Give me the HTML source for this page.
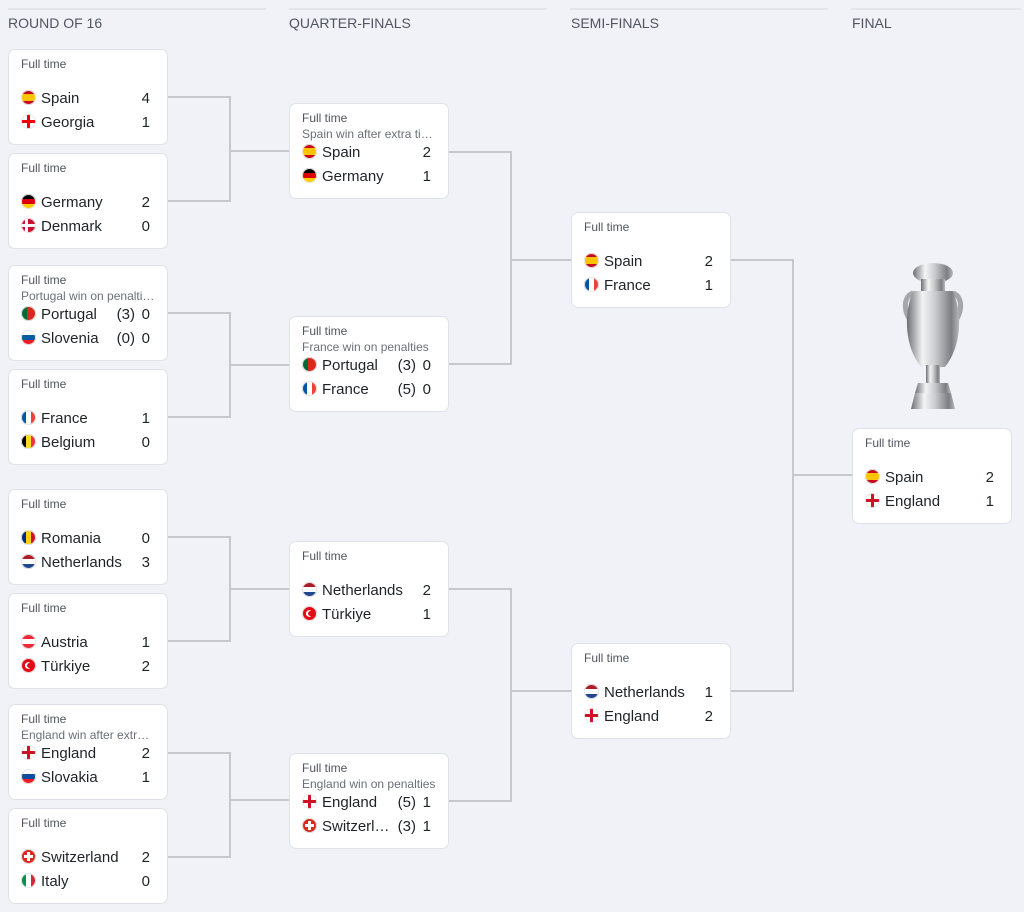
<!DOCTYPE html>
<html><head><meta charset="utf-8"><style>
body{margin:0;width:1024px;height:912px;background:#f0f2f7;font-family:"Liberation Sans",sans-serif;position:relative;overflow:hidden}
.h{position:absolute;top:8px;height:2px;background:#e3e5eb}
.ht{position:absolute;top:15px;font-size:14px;color:#505560}
.c{position:absolute;width:160px;height:96px;background:#fff;border:1px solid #dfe2e8;border-radius:7px;box-sizing:border-box}
.ft{position:absolute;left:12px;top:7px;font-size:12px;color:#50555f}
.sub{position:absolute;left:12px;top:23px;width:134px;font-size:12px;color:#6a707a;white-space:nowrap;overflow:hidden;text-overflow:ellipsis}
.r{position:absolute;left:0;right:0;height:22px;font-size:15px;color:#1f2328;line-height:22px}
.r1{top:38px}.r2{top:62px}
.f{position:absolute;left:12px;top:2px;width:15px;height:15px;border-radius:50%;box-shadow:0 0 0 1px #e6e6e6 inset}
.n{position:absolute;left:32px}
.s{position:absolute;right:17px}
.p{position:absolute;right:32px}
.es{background:linear-gradient(#c60b1e 27%,#ffc400 27% 73%,#c60b1e 73%)}
.ge{background:linear-gradient(#e00,#e00) center/100% 3px no-repeat,linear-gradient(#e00,#e00) center/3px 100% no-repeat,#fff}
.de{background:linear-gradient(#000 33%,#dd0000 33% 66%,#ffce00 66%)}
.dk{background:linear-gradient(#fff,#fff) 0 50%/100% 3px no-repeat,linear-gradient(#fff,#fff) 4px 0/3px 100% no-repeat,#c8102e}
.pt{background:linear-gradient(90deg,#046a38 40%,#da291c 40%)}
.si{background:linear-gradient(#fff 33%,#005da4 33% 66%,#ed1c24 66%)}
.fr{background:linear-gradient(90deg,#0055a4 33%,#fff 33% 66%,#ef4135 66%)}
.be{background:linear-gradient(90deg,#000 33%,#fdda24 33% 66%,#ef3340 66%)}
.ro{background:linear-gradient(90deg,#002b7f 33%,#fcd116 33% 66%,#ce1126 66%)}
.nl{background:linear-gradient(#ae1c28 33%,#fff 33% 66%,#21468b 66%)}
.at{background:linear-gradient(#ed2939 33%,#fff 33% 66%,#ed2939 66%)}
.tr{background:radial-gradient(circle at 58% 50%,#e30a17 22%,transparent 23%),radial-gradient(circle at 48% 50%,#fff 30%,#e30a17 31%)}
.en{background:linear-gradient(#ce1124,#ce1124) center/100% 3px no-repeat,linear-gradient(#ce1124,#ce1124) center/3px 100% no-repeat,#fff}
.sk{background:linear-gradient(#fff 33%,#0b4ea2 33% 66%,#ee1c25 66%)}
.ch{background:linear-gradient(#fff,#fff) center/9px 3px no-repeat,linear-gradient(#fff,#fff) center/3px 9px no-repeat,#da291c}
.it{background:linear-gradient(90deg,#009246 33%,#fff 33% 66%,#ce2b37 66%)}
</style></head><body>
<div class="h" style="left:8px;width:258px"></div><div class="ht" style="left:8px">ROUND OF 16</div>
<div class="h" style="left:289px;width:258px"></div><div class="ht" style="left:289px">QUARTER-FINALS</div>
<div class="h" style="left:570px;width:258px"></div><div class="ht" style="left:571px">SEMI-FINALS</div>
<div class="h" style="left:851px;width:170px"></div><div class="ht" style="left:852px">FINAL</div>

<svg width="1024" height="912" style="position:absolute;left:0;top:0" fill="none" stroke="#c6c8cd" stroke-width="2">
<path d="M167 97H230V201H167M230 151H290"/>
<path d="M167 313H230V417H167M230 365H290"/>
<path d="M167 537H230V641H167M230 589H290"/>
<path d="M167 753H230V857H167M230 800H290"/>
<path d="M448 152H511V364H448M511 260H572"/>
<path d="M448 589H511V801H448M511 691H572"/>
<path d="M730 260H793V691H730M793 475H853"/>
</svg>

<!-- R16 -->
<div class="c" style="left:8px;top:49px"><div class="ft">Full time</div>
<div class="r r1"><span class="f es"></span><span class="n">Spain</span><span class="s">4</span></div>
<div class="r r2"><span class="f ge"></span><span class="n">Georgia</span><span class="s">1</span></div></div>
<div class="c" style="left:8px;top:153px"><div class="ft">Full time</div>
<div class="r r1"><span class="f de"></span><span class="n">Germany</span><span class="s">2</span></div>
<div class="r r2"><span class="f dk"></span><span class="n">Denmark</span><span class="s">0</span></div></div>
<div class="c" style="left:8px;top:265px"><div class="ft">Full time</div><div class="sub">Portugal win on penalties</div>
<div class="r r1"><span class="f pt"></span><span class="n">Portugal</span><span class="p">(3)</span><span class="s">0</span></div>
<div class="r r2"><span class="f si"></span><span class="n">Slovenia</span><span class="p">(0)</span><span class="s">0</span></div></div>
<div class="c" style="left:8px;top:369px"><div class="ft">Full time</div>
<div class="r r1"><span class="f fr"></span><span class="n">France</span><span class="s">1</span></div>
<div class="r r2"><span class="f be"></span><span class="n">Belgium</span><span class="s">0</span></div></div>
<div class="c" style="left:8px;top:489px"><div class="ft">Full time</div>
<div class="r r1"><span class="f ro"></span><span class="n">Romania</span><span class="s">0</span></div>
<div class="r r2"><span class="f nl"></span><span class="n">Netherlands</span><span class="s">3</span></div></div>
<div class="c" style="left:8px;top:593px"><div class="ft">Full time</div>
<div class="r r1"><span class="f at"></span><span class="n">Austria</span><span class="s">1</span></div>
<div class="r r2"><span class="f tr"></span><span class="n">Türkiye</span><span class="s">2</span></div></div>
<div class="c" style="left:8px;top:704px"><div class="ft">Full time</div><div class="sub">England win after extra time</div>
<div class="r r1"><span class="f en"></span><span class="n">England</span><span class="s">2</span></div>
<div class="r r2"><span class="f sk"></span><span class="n">Slovakia</span><span class="s">1</span></div></div>
<div class="c" style="left:8px;top:808px"><div class="ft">Full time</div>
<div class="r r1"><span class="f ch"></span><span class="n">Switzerland</span><span class="s">2</span></div>
<div class="r r2"><span class="f it"></span><span class="n">Italy</span><span class="s">0</span></div></div>

<!-- QF -->
<div class="c" style="left:289px;top:103px"><div class="ft">Full time</div><div class="sub">Spain win after extra time</div>
<div class="r r1"><span class="f es"></span><span class="n">Spain</span><span class="s">2</span></div>
<div class="r r2"><span class="f de"></span><span class="n">Germany</span><span class="s">1</span></div></div>
<div class="c" style="left:289px;top:316px"><div class="ft">Full time</div><div class="sub">France win on penalties</div>
<div class="r r1"><span class="f pt"></span><span class="n">Portugal</span><span class="p">(3)</span><span class="s">0</span></div>
<div class="r r2"><span class="f fr"></span><span class="n">France</span><span class="p">(5)</span><span class="s">0</span></div></div>
<div class="c" style="left:289px;top:541px"><div class="ft">Full time</div>
<div class="r r1"><span class="f nl"></span><span class="n">Netherlands</span><span class="s">2</span></div>
<div class="r r2"><span class="f tr"></span><span class="n">Türkiye</span><span class="s">1</span></div></div>
<div class="c" style="left:289px;top:753px"><div class="ft">Full time</div><div class="sub">England win on penalties</div>
<div class="r r1"><span class="f en"></span><span class="n">England</span><span class="p">(5)</span><span class="s">1</span></div>
<div class="r r2"><span class="f ch"></span><span class="n" style="width:72px;overflow:hidden;text-overflow:ellipsis;white-space:nowrap">Switzerland</span><span class="p">(3)</span><span class="s">1</span></div></div>

<!-- SF -->
<div class="c" style="left:571px;top:212px"><div class="ft">Full time</div>
<div class="r r1"><span class="f es"></span><span class="n">Spain</span><span class="s">2</span></div>
<div class="r r2"><span class="f fr"></span><span class="n">France</span><span class="s">1</span></div></div>
<div class="c" style="left:571px;top:643px"><div class="ft">Full time</div>
<div class="r r1"><span class="f nl"></span><span class="n">Netherlands</span><span class="s">1</span></div>
<div class="r r2"><span class="f en"></span><span class="n">England</span><span class="s">2</span></div></div>

<!-- Final -->
<svg width="64" height="156" viewBox="0 0 64 156" style="position:absolute;left:901px;top:261px">
<defs><linearGradient id="g" x1="0" x2="1"><stop offset="0" stop-color="#6d6f74"/><stop offset=".3" stop-color="#f4f4f4"/><stop offset=".55" stop-color="#c9cacc"/><stop offset=".85" stop-color="#7c7e83"/><stop offset="1" stop-color="#b6b7ba"/></linearGradient></defs>
<path d="M12 32c-12 4 -9 26 3 32M52 32c12 4 9 26 -3 32" stroke="#a4a6aa" stroke-width="5" fill="none"/>
<g fill="url(#g)" stroke="none">
<ellipse cx="32" cy="12" rx="20" ry="10"/>
<rect x="20" y="18" width="24" height="14"/>
<path d="M12 30h40c10 24 8 56 -8 76h-24c-16 -20 -18 -52 -8 -76z"/>
<rect x="25" y="104" width="14" height="22"/>
<path d="M17 122h30l3 10h-36z"/>
<path d="M14 132h36l4 16h-44z"/>
</g>
</svg>
<div class="c" style="left:852px;top:428px"><div class="ft">Full time</div>
<div class="r r1"><span class="f es"></span><span class="n">Spain</span><span class="s">2</span></div>
<div class="r r2"><span class="f en"></span><span class="n">England</span><span class="s">1</span></div></div>
</body></html>
